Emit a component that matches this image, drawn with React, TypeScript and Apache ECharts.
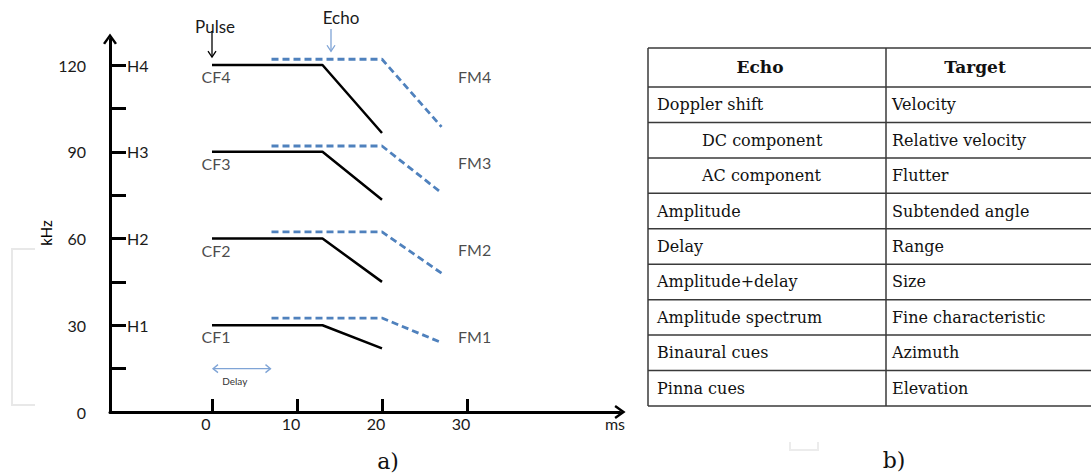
import React, { useEffect, useRef } from "react";
import * as echarts from "echarts";

// ---------- data ----------
const timeTicks = [0, 10, 20, 30];
const freqLabels = [0, 30, 60, 90, 120];
const freqTicks = [15, 30, 45, 60, 75, 90, 105, 120];
const harmonicValues = [30, 60, 90, 120];
const harmonicNames = ["H1", "H2", "H3", "H4"];
const cfNames = ["CF1", "CF2", "CF3", "CF4"];
const fmNames = ["FM1", "FM2", "FM3", "FM4"];
const pulseTimes = [0, 13, 20];
const echoTimes = [7, 20, 27];
const pulseFreqs = [
  [30, 30, 22],
  [60, 60, 45],
  [90, 90, 73.4],
  [120, 120, 96.5],
];
const echoFreqs = [
  [32.5, 32.5, 24],
  [62.3, 62.3, 48],
  [92, 92, 75.8],
  [122, 122, 98.6],
];
const echoMarkerTime = 14;
const delayLevel = 15;
const xUnit = "ms";
const yUnit = "kHz";

const tableHeaders = ["Echo", "Target"];
const echoProps = [
  "Doppler shift",
  "DC component",
  "AC component",
  "Amplitude",
  "Delay",
  "Amplitude+delay",
  "Amplitude spectrum",
  "Binaural cues",
  "Pinna cues",
];
const echoIndent = [false, true, true, false, false, false, false, false, false];
const targets = [
  "Velocity",
  "Relative velocity",
  "Flutter",
  "Subtended angle",
  "Range",
  "Size",
  "Fine characteristic",
  "Azimuth",
  "Elevation",
];

// ---------- style ----------
const SANS = "Lato";
const SERIF = "DejaVu Serif";
const TXT = "#1a1a1a";
const BLUE = "#4f81bd";
const LIGHTBLUE = "#7fa4d6";
const chevronUp = "path://M10,0 L20,14 L17,16 L10,6 L3,16 L0,14 Z";

export default function App() {
  const ref = useRef<HTMLDivElement>(null);

  useEffect(() => {
    const chart = echarts.init(ref.current!, null, { renderer: "svg" });

    const pulseSeries = pulseFreqs.map((fs, i) => ({
      type: "line",
      name: "pulse" + (i + 1),
      data: pulseTimes.map((t, j) => [t, fs[j]]),
      symbol: "none",
      lineStyle: { color: "#000", width: 2.5 },
      silent: true,
    }));
    const echoSeries = echoFreqs.map((fs, i) => ({
      type: "line",
      name: "echo" + (i + 1),
      data: echoTimes.map((t, j) => [t, fs[j]]),
      symbol: "none",
      lineStyle: { color: BLUE, width: 2.8, type: [7, 4] },
      silent: true,
    }));
    const cfLabels = {
      type: "scatter",
      data: harmonicValues.map((h, i) => ({ value: [pulseTimes[0], h], name: cfNames[i] })),
      symbol: "circle",
      symbolSize: 1,
      itemStyle: { color: "rgba(0,0,0,0)" },
      label: {
        show: true,
        position: "bottom",
        distance: 3,
        offset: [4, 0],
        formatter: "{b}",
        fontFamily: SANS,
        fontSize: 16,
        color: TXT,
      },
      silent: true,
    };
    const fmLabels = {
      type: "scatter",
      data: harmonicValues.map((h, i) => ({ value: [echoTimes[2], h], name: fmNames[i] })),
      symbol: "circle",
      symbolSize: 1,
      itemStyle: { color: "rgba(0,0,0,0)" },
      label: {
        show: true,
        position: "right",
        distance: 16,
        offset: [0, 11],
        formatter: "{b}",
        fontFamily: SANS,
        fontSize: 16,
        color: TXT,
      },
      silent: true,
    };

    chart.setOption({
      animation: false,
      backgroundColor: "#fff",
      grid: {
        left: 110,
        top: 39,
        width: 510,
        height: 373,
        containLabel: false,
        outerBoundsMode: "none",
      },
      xAxis: {
        type: "value",
        min: -12,
        max: 48,
        axisLine: {
          show: true,
          onZero: false,
          symbol: ["none", chevronUp],
          symbolSize: [14, 12],
          lineStyle: { color: "#000", width: 3 },
        },
        axisTick: {
          show: true,
          inside: true,
          length: 13,
          customValues: timeTicks,
          lineStyle: { color: "#000", width: 3 },
        },
        axisLabel: {
          show: true,
          customValues: timeTicks,
          margin: 3,
          padding: [0, 12, 0, 0],
          fontFamily: SANS,
          fontSize: 16,
          color: TXT,
        },
        splitLine: { show: false },
      },
      yAxis: [
        {
          type: "value",
          min: 0,
          max: 129,
          position: "left",
          axisLine: {
            show: true,
            onZero: false,
            symbol: ["none", chevronUp],
            symbolSize: [14, 12],
            lineStyle: { color: "#000", width: 3 },
          },
          axisTick: {
            show: true,
            inside: true,
            length: 16,
            customValues: freqTicks,
            lineStyle: { color: "#000", width: 3 },
          },
          axisLabel: {
            show: true,
            customValues: freqLabels,
            margin: 24,
            fontFamily: SANS,
            fontSize: 16,
            color: TXT,
          },
          splitLine: { show: false },
        },
        {
          type: "value",
          min: 0,
          max: 129,
          position: "left",
          axisLine: { show: false, onZero: false },
          axisTick: { show: false },
          axisLabel: {
            show: true,
            inside: true,
            margin: 17,
            customValues: harmonicValues,
            formatter: (v: number) => harmonicNames[harmonicValues.indexOf(v)] || "",
            fontFamily: SANS,
            fontSize: 16,
            color: TXT,
          },
          splitLine: { show: false },
        },
      ],
      series: [...pulseSeries, ...echoSeries, cfLabels, fmLabels],
    });

    const px = (t: number, f: number) => chart.convertToPixel({ gridIndex: 0 }, [t, f]) as number[];

    const pulseTop = px(pulseTimes[0], harmonicValues[3]);
    const echoTop = px(echoMarkerTime, echoFreqs[3][0]);
    const d0 = px(0, delayLevel);
    const d1 = px(echoTimes[0], delayLevel);
    const xEnd = px(48, 0);

    const graphic: any[] = [];
    // Pulse annotation
    graphic.push(
      { type: "text", x: pulseTop[0] + 3, y: 26, style: { text: "Pulse", fontFamily: SANS, fontSize: 17, fill: TXT, align: "center", verticalAlign: "middle" } },
      { type: "line", shape: { x1: pulseTop[0], y1: 31, x2: pulseTop[0], y2: pulseTop[1] - 8 }, style: { stroke: "#000", lineWidth: 1.3 } },
      { type: "polyline", shape: { points: [[pulseTop[0] - 4, pulseTop[1] - 14], [pulseTop[0], pulseTop[1] - 8], [pulseTop[0] + 4, pulseTop[1] - 14]] }, style: { stroke: "#000", lineWidth: 1.3, fill: null } }
    );
    // Echo annotation
    graphic.push(
      { type: "text", x: echoTop[0] + 10, y: 17, style: { text: "Echo", fontFamily: SANS, fontSize: 17, fill: TXT, align: "center", verticalAlign: "middle" } },
      { type: "line", shape: { x1: echoTop[0], y1: 29, x2: echoTop[0], y2: echoTop[1] - 8 }, style: { stroke: LIGHTBLUE, lineWidth: 1.3 } },
      { type: "polyline", shape: { points: [[echoTop[0] - 4, echoTop[1] - 14], [echoTop[0], echoTop[1] - 8], [echoTop[0] + 4, echoTop[1] - 14]] }, style: { stroke: LIGHTBLUE, lineWidth: 1.3, fill: null } }
    );
    // Delay arrow
    graphic.push(
      { type: "line", shape: { x1: d0[0] + 1, y1: d0[1], x2: d1[0] - 1, y2: d1[1] }, style: { stroke: LIGHTBLUE, lineWidth: 1.3 } },
      { type: "polyline", shape: { points: [[d0[0] + 6, d0[1] - 4], [d0[0] + 1, d0[1]], [d0[0] + 6, d0[1] + 4]] }, style: { stroke: LIGHTBLUE, lineWidth: 1.3, fill: null } },
      { type: "polyline", shape: { points: [[d1[0] - 6, d1[1] - 4], [d1[0] - 1, d1[1]], [d1[0] - 6, d1[1] + 4]] }, style: { stroke: LIGHTBLUE, lineWidth: 1.3, fill: null } },
      { type: "text", x: (d0[0] + d1[0]) / 2 - 7, y: d0[1] + 12, style: { text: "Delay", fontFamily: SANS, fontSize: 10, fill: "#333", align: "center", verticalAlign: "middle" } }
    );
    // axis unit titles
    graphic.push({
      type: "text",
      x: 46,
      y: 233,
      rotation: Math.PI / 2,
      style: { text: yUnit, fontFamily: SANS, fontSize: 15, fill: "#000", align: "center", verticalAlign: "middle" },
    });
    graphic.push({
      type: "text",
      x: xEnd[0] - 5,
      y: xEnd[1] + 11,
      z: 100,
      style: { text: xUnit, fontFamily: SANS, fontSize: 16, fill: TXT, align: "center", verticalAlign: "middle" },
    });
    // faint page artefacts
    graphic.push(
      { type: "polyline", shape: { points: [[35, 249], [12, 249], [12, 405], [35, 405]] }, style: { stroke: "#e8e8e8", lineWidth: 2, fill: null } },
      { type: "polyline", shape: { points: [[790, 442], [790, 450], [818, 450], [818, 442]] }, style: { stroke: "#ececec", lineWidth: 2, fill: null } }
    );
    // panel captions
    graphic.push(
      { type: "text", x: 388, y: 461, style: { text: "a)", fontFamily: SERIF, fontSize: 22, fill: "#111", align: "center", verticalAlign: "middle" } },
      { type: "text", x: 894, y: 460, style: { text: "b)", fontFamily: SERIF, fontSize: 22, fill: "#111", align: "center", verticalAlign: "middle" } }
    );

    // table b)
    const tL = 648, tR = 1095, tC = 886, tTop = 48, hBot = 87, tBot = 406;
    const rowH = (tBot - hBot) / echoProps.length;
    const lineStyle = { stroke: "#3a3a3a", lineWidth: 1.5 };
    graphic.push({ type: "line", shape: { x1: tL, y1: tTop, x2: tR, y2: tTop }, style: lineStyle });
    graphic.push({ type: "line", shape: { x1: tL, y1: hBot, x2: tR, y2: hBot }, style: lineStyle });
    for (let i = 1; i <= echoProps.length; i++) {
      const y = hBot + i * rowH;
      graphic.push({ type: "line", shape: { x1: tL, y1: y, x2: tR, y2: y }, style: lineStyle });
    }
    graphic.push({ type: "line", shape: { x1: tL, y1: tTop, x2: tL, y2: tBot }, style: lineStyle });
    graphic.push({ type: "line", shape: { x1: tC, y1: tTop, x2: tC, y2: tBot }, style: lineStyle });
    graphic.push(
      { type: "text", x: 760, y: (tTop + hBot) / 2 - 1, style: { text: tableHeaders[0], fontFamily: SERIF, fontSize: 17, fontWeight: "bold", fill: "#111", align: "center", verticalAlign: "middle" } },
      { type: "text", x: 975, y: (tTop + hBot) / 2 - 1, style: { text: tableHeaders[1], fontFamily: SERIF, fontSize: 17, fontWeight: "bold", fill: "#111", align: "center", verticalAlign: "middle" } }
    );
    echoProps.forEach((txt, i) => {
      const y = hBot + (i + 0.5) * rowH;
      graphic.push({ type: "text", x: echoIndent[i] ? 702 : 657, y, style: { text: txt, fontFamily: SERIF, fontSize: 16, fill: "#111", align: "left", verticalAlign: "middle" } });
      graphic.push({ type: "text", x: 892, y, style: { text: targets[i], fontFamily: SERIF, fontSize: 16, fill: "#111", align: "left", verticalAlign: "middle" } });
    });

    chart.setOption({ graphic });

    return () => chart.dispose();
  }, []);

  return <div ref={ref} style={{ position: "fixed", left: 0, top: 0, width: 1091, height: 476 }} />;
}
